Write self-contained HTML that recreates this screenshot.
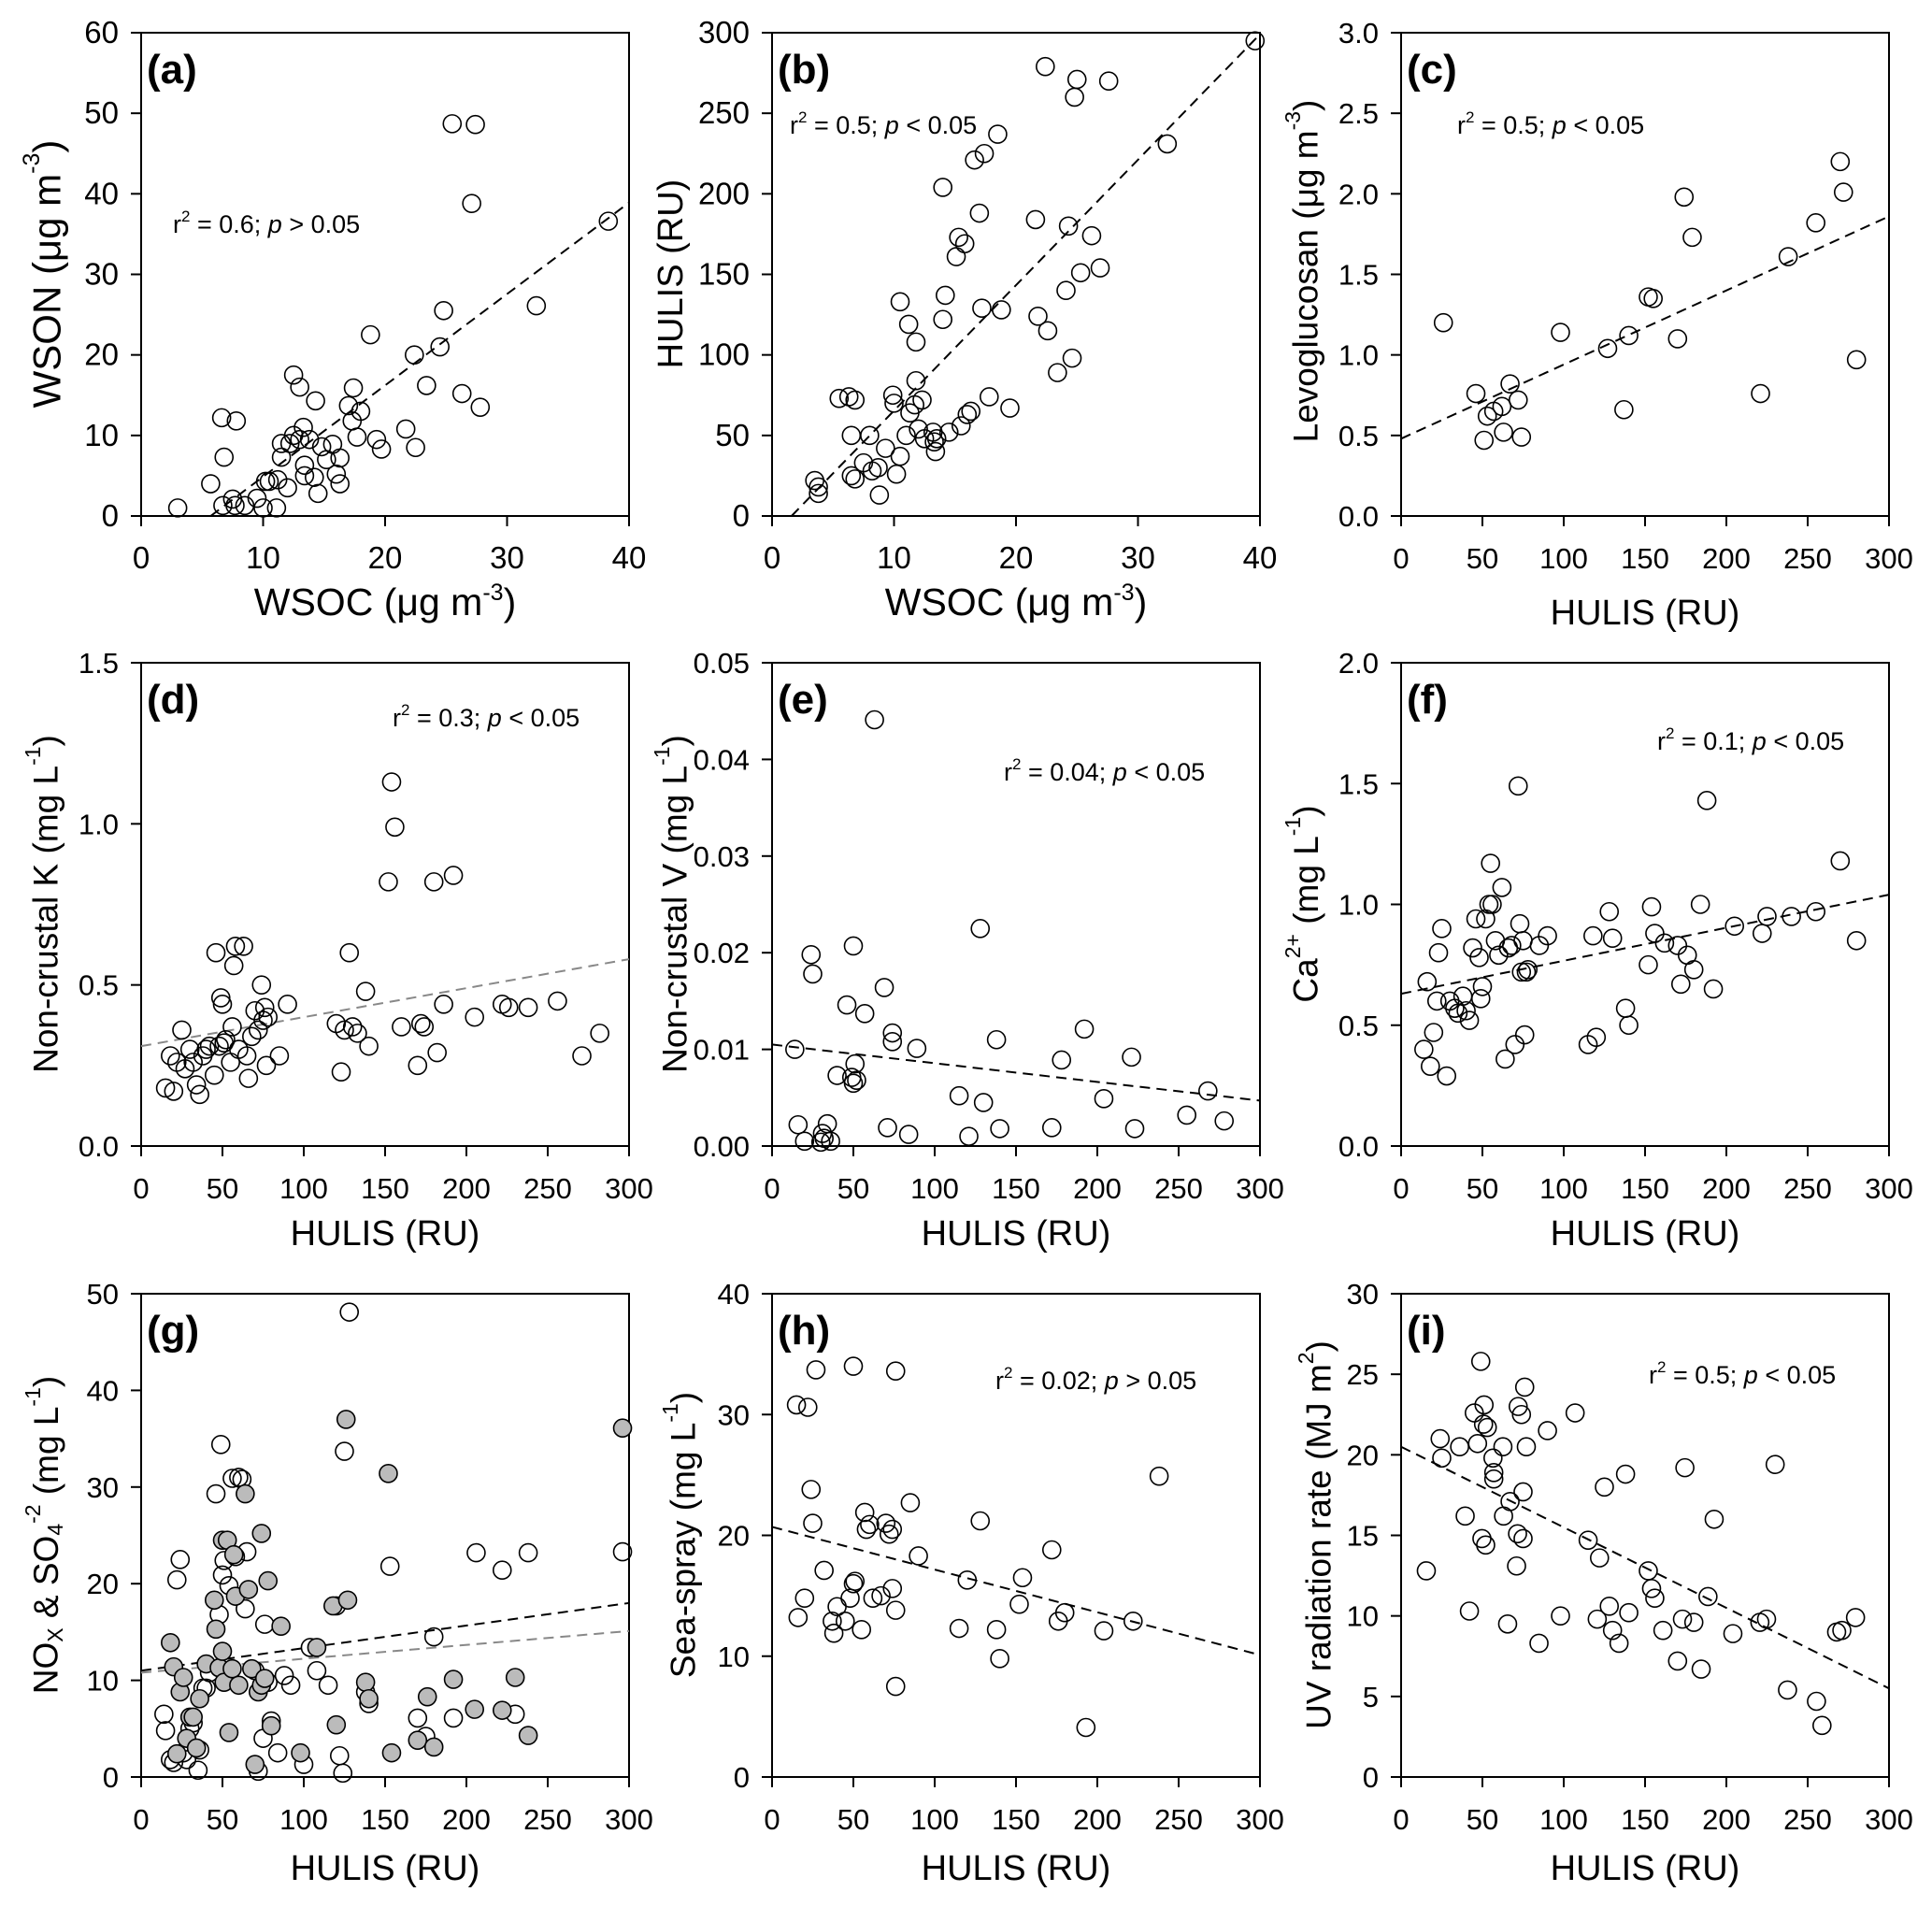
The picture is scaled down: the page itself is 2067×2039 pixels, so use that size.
<!DOCTYPE html>
<html><head><meta charset="utf-8"><style>
html,body{margin:0;padding:0;background:#fff;}
svg{display:block;font-family:"Liberation Sans",Arial,sans-serif;}
</style></head><body>
<svg id="fig" width="2067" height="2039" viewBox="0 0 2067 2039" xmlns="http://www.w3.org/2000/svg">
<rect width="2067" height="2039" fill="#fff"/>
<g font-size="38" fill="#000" text-anchor="middle">
 <text x="412" y="658" font-size="41">WSOC (μg m<tspan font-size="25" dy="-16">-3</tspan><tspan dy="16">)</tspan></text>
 <text x="1087" y="658" font-size="41">WSOC (μg m<tspan font-size="25" dy="-16">-3</tspan><tspan dy="16">)</tspan></text>
 <text x="1760" y="668">HULIS (RU)</text>
 <text x="412" y="1332">HULIS (RU)</text>
 <text x="1087" y="1332">HULIS (RU)</text>
 <text x="1760" y="1332">HULIS (RU)</text>
 <text x="412" y="2011">HULIS (RU)</text>
 <text x="1087" y="2011">HULIS (RU)</text>
 <text x="1760" y="2011">HULIS (RU)</text>
</g>
<g font-size="37" fill="#000" text-anchor="middle" dominant-baseline="central">
 <text transform="translate(50,293) rotate(-90)" font-size="42">WSON (μg m<tspan font-size="25" dy="-16">-3</tspan><tspan dy="16">)</tspan></text>
 <text transform="translate(718,293) rotate(-90)" font-size="38">HULIS (RU)</text>
 <text transform="translate(1397,290) rotate(-90)">Levoglucosan (μg m<tspan font-size="23" dy="-14">-3</tspan><tspan dy="14">)</tspan></text>
 <text transform="translate(49,967) rotate(-90)">Non-crustal K (mg L<tspan font-size="23" dy="-14">-1</tspan><tspan dy="14">)</tspan></text>
 <text transform="translate(722,967) rotate(-90)">Non-crustal V (mg L<tspan font-size="23" dy="-14">-1</tspan><tspan dy="14">)</tspan></text>
 <text transform="translate(1397,967) rotate(-90)">Ca<tspan font-size="23" dy="-14">2+</tspan><tspan dy="14"> (mg L</tspan><tspan font-size="23" dy="-14">-1</tspan><tspan dy="14">)</tspan></text>
 <text transform="translate(49,1642) rotate(-90)">NO<tspan font-size="23" dy="10">X</tspan><tspan dy="-10"> &amp; SO</tspan><tspan font-size="23" dy="10">4</tspan><tspan font-size="23" dy="-24">-2</tspan><tspan dy="14"> (mg L</tspan><tspan font-size="23" dy="-14">-1</tspan><tspan dy="14">)</tspan></text>
 <text transform="translate(731,1642) rotate(-90)">Sea-spray (mg L<tspan font-size="23" dy="-14">-1</tspan><tspan dy="14">)</tspan></text>
 <text transform="translate(1411,1642) rotate(-90)">UV radiation rate (MJ m<tspan font-size="23" dy="-14">2</tspan><tspan dy="14">)</tspan></text>
</g>
<g font-size="27" fill="#000">
 <text x="185" y="249">r<tspan font-size="17" dy="-12">2</tspan><tspan dy="12"> = 0.6;  </tspan><tspan font-style="italic">p</tspan> &gt; 0.05</text>
 <text x="845" y="143">r<tspan font-size="17" dy="-12">2</tspan><tspan dy="12"> = 0.5;  </tspan><tspan font-style="italic">p</tspan> &lt; 0.05</text>
 <text x="1559" y="143">r<tspan font-size="17" dy="-12">2</tspan><tspan dy="12"> = 0.5;  </tspan><tspan font-style="italic">p</tspan> &lt; 0.05</text>
 <text x="420" y="777">r<tspan font-size="17" dy="-12">2</tspan><tspan dy="12"> = 0.3;  </tspan><tspan font-style="italic">p</tspan> &lt; 0.05</text>
 <text x="1074" y="835">r<tspan font-size="17" dy="-12">2</tspan><tspan dy="12"> = 0.04;  </tspan><tspan font-style="italic">p</tspan> &lt; 0.05</text>
 <text x="1773" y="802">r<tspan font-size="17" dy="-12">2</tspan><tspan dy="12"> = 0.1;  </tspan><tspan font-style="italic">p</tspan> &lt; 0.05</text>
 <text x="1065" y="1486">r<tspan font-size="17" dy="-12">2</tspan><tspan dy="12"> = 0.02;  </tspan><tspan font-style="italic">p</tspan> &gt; 0.05</text>
 <text x="1764" y="1480">r<tspan font-size="17" dy="-12">2</tspan><tspan dy="12"> = 0.5;  </tspan><tspan font-style="italic">p</tspan> &lt; 0.05</text>
</g>
</svg>
<script>
// ---- data ----
const aX=[3,5.7,6.6,6.8,6.7,7.5,7.8,7.7,8.5,9.5,10,10.2,10.5,11.1,11.2,11.5,11.5,12,12.2,12.5,12.5,13,13,13.3,13.4,13.4,13.8,14.3,14.2,14.5,14.8,15.2,15.7,16,16.3,16.3,17,17.4,17.3,17.7,18,18.8,19.3,19.7,21.7,22.4,22.5,23.4,24.5,24.8,25.5,26.3,27.1,27.4,27.8,32.4,38.3];
const aY=[1,4,12.2,7.3,1.3,2.1,11.8,1.3,1.3,2.2,1,4.3,4.3,1,4.5,9,7.3,3.5,9,17.5,10,16,9.5,11,6.3,5,9.5,14.3,4.8,2.8,8.6,7,8.9,5.2,4,7.2,13.7,15.9,11.8,9.8,13,22.5,9.5,8.3,10.8,20,8.5,16.2,21,25.5,48.7,15.2,38.8,48.6,13.5,26.1,36.6];
const aFitX=[5.7,40], aFitY=[0,38.9];
const bX=[3.5,3.8,3.8,5.5,6.3,6.5,6.8,6.5,6.8,7.5,8,8.2,8.7,8.8,9.3,9.9,10,10.2,10.5,10.5,11,11.2,11.3,11.7,11.8,11.8,12,12.3,12.5,13.2,13.3,13.4,13.5,14,14.2,14,14.5,15.1,15.3,15.5,15.8,16,16.3,16.6,17,17.2,17.4,17.8,18.5,18.8,19.5,21.6,21.8,22.4,22.6,23.4,24.1,24.3,24.6,24.8,25,25.3,26.2,26.9,27.6,32.4,39.6];
const bY=[22,18,14,73,74,50,72,25,23,33,50,28,30,13,42,75,70,26,37,133,50,119,64,69,108,84,54,72,48,52,46,40,48,204,137,122,52,161,173,56,169,63,65,221,188,129,225,74,237,128,67,184,124,279,115,89,140,180,98,260,271,151,174,154,270,231,295];
const bFitX=[1.6,40], bFitY=[0,299];
const cX=[26,46,51,53,57,62,63,67,72,74,98,127,137,140,152,155,170,174,179,221,238,255,270,272,280];
const cY=[1.2,0.76,0.47,0.62,0.65,0.68,0.52,0.82,0.72,0.49,1.14,1.04,0.66,1.12,1.36,1.35,1.1,1.98,1.73,0.76,1.61,1.82,2.2,2.01,0.97];
const cFitX=[0,300], cFitY=[0.48,1.86];
const dX=[15,18,20,22,25,27,30,32,34,36,38,40,42,45,46,48,49,50,51,52,55,56,57,58,60,63,65,66,68,70,72,74,75,76,77,78,85,90,120,123,125,128,130,133,138,140,152,154,156,160,170,172,174,180,182,186,192,205,222,226,238,256,271,282];
const dY=[0.18,0.28,0.17,0.26,0.36,0.24,0.3,0.26,0.19,0.16,0.28,0.3,0.31,0.22,0.6,0.31,0.46,0.44,0.32,0.33,0.26,0.37,0.56,0.62,0.3,0.62,0.28,0.21,0.34,0.42,0.36,0.5,0.39,0.43,0.25,0.4,0.28,0.44,0.38,0.23,0.36,0.6,0.37,0.35,0.48,0.31,0.82,1.13,0.99,0.37,0.25,0.38,0.37,0.82,0.29,0.44,0.84,0.4,0.44,0.43,0.43,0.45,0.28,0.35];
const dFitX=[0,300], dFitY=[0.31,0.58];
const eX=[14,16,20,24,25,30,31,32,34,36,40,46,49,50,51,50,52,57,63,69,71,74,74,84,89,115,121,128,130,138,140,172,178,192,204,221,223,255,268,278];
const eY=[0.01,0.0022,0.0005,0.0198,0.0178,0.0004,0.0013,0.0008,0.0023,0.0005,0.0073,0.0146,0.0071,0.0207,0.0085,0.0065,0.0068,0.0137,0.0441,0.0164,0.0019,0.0117,0.0108,0.0012,0.0101,0.0052,0.001,0.0225,0.0045,0.011,0.0018,0.0019,0.0089,0.0121,0.0049,0.0092,0.0018,0.0032,0.0057,0.0026];
const eFitX=[0,300], eFitY=[0.0105,0.0047];
const fX=[14,16,18,20,22,23,25,28,30,33,35,38,40,42,44,46,48,49,50,52,54,55,56,58,60,62,64,66,68,70,72,73,74,75,76,77,78,85,90,115,120,118,128,130,138,140,152,154,156,162,170,172,176,180,184,188,192,205,222,225,240,255,270,280];
const fY=[0.4,0.68,0.33,0.47,0.6,0.8,0.9,0.29,0.6,0.57,0.55,0.62,0.56,0.52,0.82,0.94,0.78,0.61,0.66,0.94,1,1.17,1,0.85,0.79,1.07,0.36,0.82,0.83,0.42,1.49,0.92,0.72,0.85,0.46,0.72,0.73,0.83,0.87,0.42,0.45,0.87,0.97,0.86,0.57,0.5,0.75,0.99,0.88,0.84,0.83,0.67,0.79,0.73,1,1.43,0.65,0.91,0.88,0.95,0.95,0.97,1.18,0.85];
const fFitX=[0,300], fFitY=[0.63,1.04];
const gOpenX=[14,15,18,20,22,24,26,28,30,32,35,36,38,40,42,46,48,49,50,51,54,56,58,60,62,64,65,70,72,75,76,78,80,84,88,92,100,104,108,115,120,122,124,125,128,138,140,153,170,175,180,192,206,222,230,238,296];
const gOpenY=[6.5,4.8,1.8,1.5,20.4,22.5,2.5,1.8,5,5.6,0.7,2.8,9.2,9.2,10.8,29.3,16.8,34.4,20.9,22.4,19.8,30.9,22.8,31,30.8,17.4,23.3,11,0.6,4,15.8,9.8,5.8,2.5,10.5,9.5,1.3,13.4,11,9.5,17.7,2.2,0.4,33.7,48.1,8.8,7.6,21.8,6.1,4.2,14.5,6.1,23.2,21.4,6.5,23.2,23.3];
const gFillX=[18,20,22,24,26,28,30,32,34,36,40,45,46,48,50,50,51,53,54,56,57,58,60,64,66,68,70,72,74,74,76,78,80,86,98,108,118,120,126,127,138,140,152,154,170,176,180,192,205,222,230,238,296];
const gFillY=[13.9,11.4,2.4,8.8,10.3,4,6.2,6.2,3,8.1,11.7,18.3,15.3,11.3,24.5,13,9.8,24.5,4.6,11.2,23,18.7,9.5,29.3,19.4,11.2,1.3,8.8,25.2,9.5,10.2,20.3,5.3,15.6,2.5,13.4,17.7,5.4,37,18.3,9.8,8.1,31.4,2.5,3.8,8.3,3.1,10.1,7,6.9,10.3,4.3,36.1];
const gFitX=[0,300], gFitY=[11,18], gFit2Y=[10.8,15.1];
const hX=[15,16,20,22,24,25,27,32,37,38,40,45,48,50,50,51,55,57,58,60,62,67,70,72,74,74,76,76,76,85,90,115,120,128,138,140,152,154,172,176,180,193,204,222,238];
const hY=[30.8,13.2,14.8,30.6,23.8,21,33.7,17.1,12.9,11.9,14.1,12.9,14.8,34,16,16.2,12.2,21.9,20.5,20.9,14.8,15,21,20.1,20.5,15.6,13.8,33.6,7.5,22.7,18.3,12.3,16.3,21.2,12.2,9.8,14.3,16.5,18.8,12.9,13.6,4.1,12.1,12.9,24.9];
const hFitX=[0,300], hFitY=[20.7,10.1];
const iX=[15.5,24,25,36,39.4,42,45,47,49,49.7,50.7,51,52,53,56.5,57,57,62.6,63,65.5,67,71,71.6,72,74,75,75,76,77,84.8,90,98,107,115,120.6,122,125,128,130,134,138,140,152,154,156,161,170,173,174.5,180,184.5,188.7,192.5,204,220.6,224.7,230,237.6,255.4,258.8,267.8,271,279.4];
const iY=[12.8,21,19.8,20.5,16.2,10.3,22.6,20.7,25.8,14.8,21.9,23.1,14.4,21.7,19.8,18.9,18.5,20.5,16.2,9.5,17.1,13.1,15.1,23,22.5,14.8,17.7,24.2,20.5,8.3,21.5,10,22.6,14.7,9.8,13.6,18,10.6,9.1,8.3,18.8,10.2,12.8,11.7,11.1,9.1,7.2,9.8,19.2,9.6,6.7,11.2,16,8.9,9.6,9.8,19.4,5.4,4.7,3.2,9,9.1,9.9];
const iFitX=[0,300], iFitY=[20.5,5.5];
// tick labels
const ticksA_X=["0","10","20","30","40"], ticksA_Y=["0","10","20","30","40","50","60"];
const ticksB_Y=["0","50","100","150","200","250","300"];
const ticksC_Y=["0.0","0.5","1.0","1.5","2.0","2.5","3.0"];
const ticksHulis=["0","50","100","150","200","250","300"];
const ticksD_Y=["0.0","0.5","1.0","1.5"];
const ticksE_Y=["0.00","0.01","0.02","0.03","0.04","0.05"];
const ticksF_Y=["0.0","0.5","1.0","1.5","2.0"];
const ticksG_Y=["0","10","20","30","40","50"];
const ticksH_Y=["0","10","20","30","40"];
const ticksI_Y=["0","5","10","15","20","25","30"];

const NS="http://www.w3.org/2000/svg";
const svg=document.getElementById('fig');
const W=522,H=517,lefts=[151,826,1499],tops=[35,709,1384];
function el(tag,attrs,parent){const e=document.createElementNS(NS,tag);for(const k in attrs)e.setAttribute(k,attrs[k]);parent.appendChild(e);return e;}

function panel(id,col,row,xMax,yMax,xTicks,yTicks,series,fits,big){
  const L=lefts[col],T=tops[row];
  const sx=v=>L+v/xMax*W, sy=v=>T+H-v/yMax*H;
  const fs=big?33:31;
  const g=el('g',{},svg);
  
  
  const fr=el('rect',{x:L,y:T,width:W,height:H,fill:'none',stroke:'#000','stroke-width':2},g);
  
  
  xTicks.forEach(t=>{const v=parseFloat(t),x=sx(v);
    const tk=el('line',{x1:x,x2:x,y1:T+H,y2:T+H+11,stroke:'#000','stroke-width':2},g);
    
    
    const tx=el('text',{x:x,y:T+H+56,'font-size':fs,'text-anchor':'middle'},g);tx.textContent=t;
    
    
  });
  yTicks.forEach(t=>{const v=parseFloat(t),y=sy(v);
    const tk=el('line',{x1:L-11,x2:L,y1:y,y2:y,stroke:'#000','stroke-width':2},g);
    
    
    const tx=el('text',{x:L-24,y:y+11,'font-size':fs,'text-anchor':'end'},g);tx.textContent=t;
    
    
  });
  fits.forEach(f=>{
    const ln=el('line',{x1:sx(f.x[0]),y1:sy(f.y[0]),x2:sx(f.x[1]),y2:sy(f.y[1]),stroke:f.c,'stroke-width':2,'stroke-dasharray':'11 7'},g);
    
    
  });
  series.forEach(s=>{
    s.x.forEach((xv,i)=>{
      const c=el('circle',{cx:sx(xv),cy:sy(s.y[i]),r:9.5,fill:s.fill,stroke:'#000','stroke-width':1.6},g);
      
      
    });
  });
  const lb=el('text',{x:L+6,y:T+54,'font-size':44,'font-weight':'bold'},g);lb.textContent='('+id+')';
  
  
}
const K='#000',G='#888';
panel('a',0,0,40,60,ticksA_X,ticksA_Y,[{x:aX,y:aY,fill:'none'}],[{x:aFitX,y:aFitY,c:K}],true);
panel('b',1,0,40,300,ticksA_X,ticksB_Y,[{x:bX,y:bY,fill:'none'}],[{x:bFitX,y:bFitY,c:K}],true);
panel('c',2,0,300,3,ticksHulis,ticksC_Y,[{x:cX,y:cY,fill:'none'}],[{x:cFitX,y:cFitY,c:K}]);
panel('d',0,1,300,1.5,ticksHulis,ticksD_Y,[{x:dX,y:dY,fill:'none'}],[{x:dFitX,y:dFitY,c:G}]);
panel('e',1,1,300,0.05,ticksHulis,ticksE_Y,[{x:eX,y:eY,fill:'none'}],[{x:eFitX,y:eFitY,c:K}]);
panel('f',2,1,300,2,ticksHulis,ticksF_Y,[{x:fX,y:fY,fill:'none'}],[{x:fFitX,y:fFitY,c:K}]);
panel('g',0,2,300,50,ticksHulis,ticksG_Y,[{x:gOpenX,y:gOpenY,fill:'none'},{x:gFillX,y:gFillY,fill:'#bbb'}],[{x:gFitX,y:gFitY,c:K},{x:gFitX,y:gFit2Y,c:G}]);
panel('h',1,2,300,40,ticksHulis,ticksH_Y,[{x:hX,y:hY,fill:'none'}],[{x:hFitX,y:hFitY,c:K}]);
panel('i',2,2,300,30,ticksHulis,ticksI_Y,[{x:iX,y:iY,fill:'none'}],[{x:iFitX,y:iFitY,c:K}]);
</script>
</body></html>
